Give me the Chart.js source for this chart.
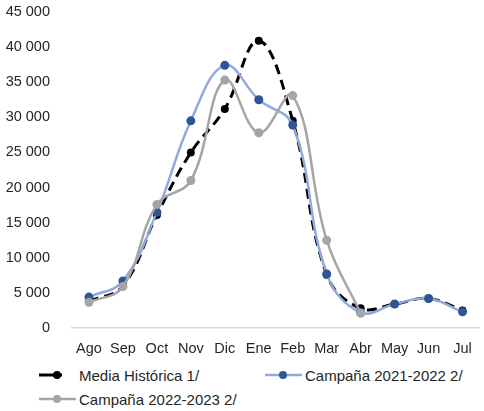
<!DOCTYPE html>
<html>
<head>
<meta charset="utf-8">
<script src="https://cdn.jsdelivr.net/npm/chart.js@4"></script>
<style>
  body { margin: 0; background: #fff; font-family: "Liberation Sans", Arial, sans-serif; }
  #wrap { position: relative; width: 484px; height: 411px; }
  #chart { position: absolute; left: 0; top: 0; }
  .leg { position: absolute; display: flex; align-items: center; font-size: 15px; color: #262626; white-space: nowrap; }
  .leg svg { margin-right: 3px; }
</style>
</head>
<body>
<div id="wrap">
  <canvas id="chart" width="484" height="360"></canvas>
  <div class="leg" style="left:39px; top:366px;">
    <svg width="37" height="18"><line x1="0" y1="9" x2="23" y2="9" stroke="#000" stroke-width="3"/><circle cx="18" cy="9" r="4" fill="#000"/></svg>Media Histórica 1/
  </div>
  <div class="leg" style="left:265px; top:366px;">
    <svg width="37" height="18"><line x1="0" y1="9" x2="37" y2="9" stroke="#8FAADC" stroke-width="2.5"/><circle cx="18" cy="9" r="4" fill="#2F5597"/></svg>Campaña 2021-2022 2/
  </div>
  <div class="leg" style="left:39px; top:390px;">
    <svg width="37" height="18"><line x1="0" y1="9" x2="37" y2="9" stroke="#A5A5A5" stroke-width="2.5"/><circle cx="18" cy="9" r="4" fill="#A5A5A5"/></svg>Campaña 2022-2023 2/
  </div>
</div>
<script>
const meses = ["Ago", "Sep", "Oct", "Nov", "Dic", "Ene", "Feb", "Mar", "Abr", "May", "Jun", "Jul"];
const mediaHistorica = [3800, 6000, 16100, 25000, 31200, 40900, 29500, 7600, 2800, 3400, 4200, 2500];
const campana2122 = [4400, 6700, 16500, 29500, 37400, 32500, 28900, 7700, 2200, 3400, 4200, 2300];
const campana2223 = [3650, 5900, 17600, 21000, 35300, 27800, 33100, 12500, 2100, null, null, null];
const yTicks = [0, 5000, 10000, 15000, 20000, 25000, 30000, 35000, 40000, 45000];

function fmt(v) {
  return String(v).replace(/\B(?=(\d{3})+(?!\d))/g, " ");
}

const tickFont = { family: "Liberation Sans", size: 14.5 };

new Chart(document.getElementById("chart"), {
  type: "line",
  data: {
    labels: meses,
    datasets: [
      {
        label: "Media Histórica 1/",
        data: mediaHistorica,
        borderColor: "#000",
        backgroundColor: "#000",
        borderWidth: 3,
        borderDash: [10, 6],
        pointRadius: 4,
        pointBorderWidth: 0,
        tension: 0.4,
        order: 3,
      },
      {
        label: "Campaña 2021-2022 2/",
        data: campana2122,
        borderColor: "#8FAADC",
        backgroundColor: "#2F5597",
        borderWidth: 2.5,
        pointRadius: 4.5,
        pointBorderWidth: 0,
        tension: 0.4,
        order: 2,
      },
      {
        label: "Campaña 2022-2023 2/",
        data: campana2223,
        borderColor: "#A5A5A5",
        backgroundColor: "#A5A5A5",
        borderWidth: 2.5,
        pointRadius: 4.5,
        pointBorderWidth: 0,
        tension: 0.4,
        order: 1,
      },
    ],
  },
  options: {
    responsive: false,
    animation: false,
    layout: { padding: { top: 12, right: 1, left: 0, bottom: 0 } },
    plugins: { legend: { display: false }, tooltip: { enabled: false } },
    scales: {
      x: {
        offset: true,
        grid: { display: false },
        border: { display: true, color: "#D9D9D9", width: 1.5 },
        ticks: { color: "#262626", font: tickFont, padding: 4, maxRotation: 0 },
        afterFit(s) { s.height = 32; },
      },
      y: {
        min: 0,
        max: 45000,
        grid: { display: false },
        border: { display: false },
        afterBuildTicks(s) { s.ticks = yTicks.map(v => ({ value: v })); },
        ticks: {
          color: "#262626",
          font: tickFont,
          padding: 14,
          callback: v => fmt(v),
        },
        afterFit(s) {
          s.width = 72;
          s.paddingTop = 0;
          s.paddingBottom = 0;
        },
      },
    },
  },
});
</script>
</body>
</html>
